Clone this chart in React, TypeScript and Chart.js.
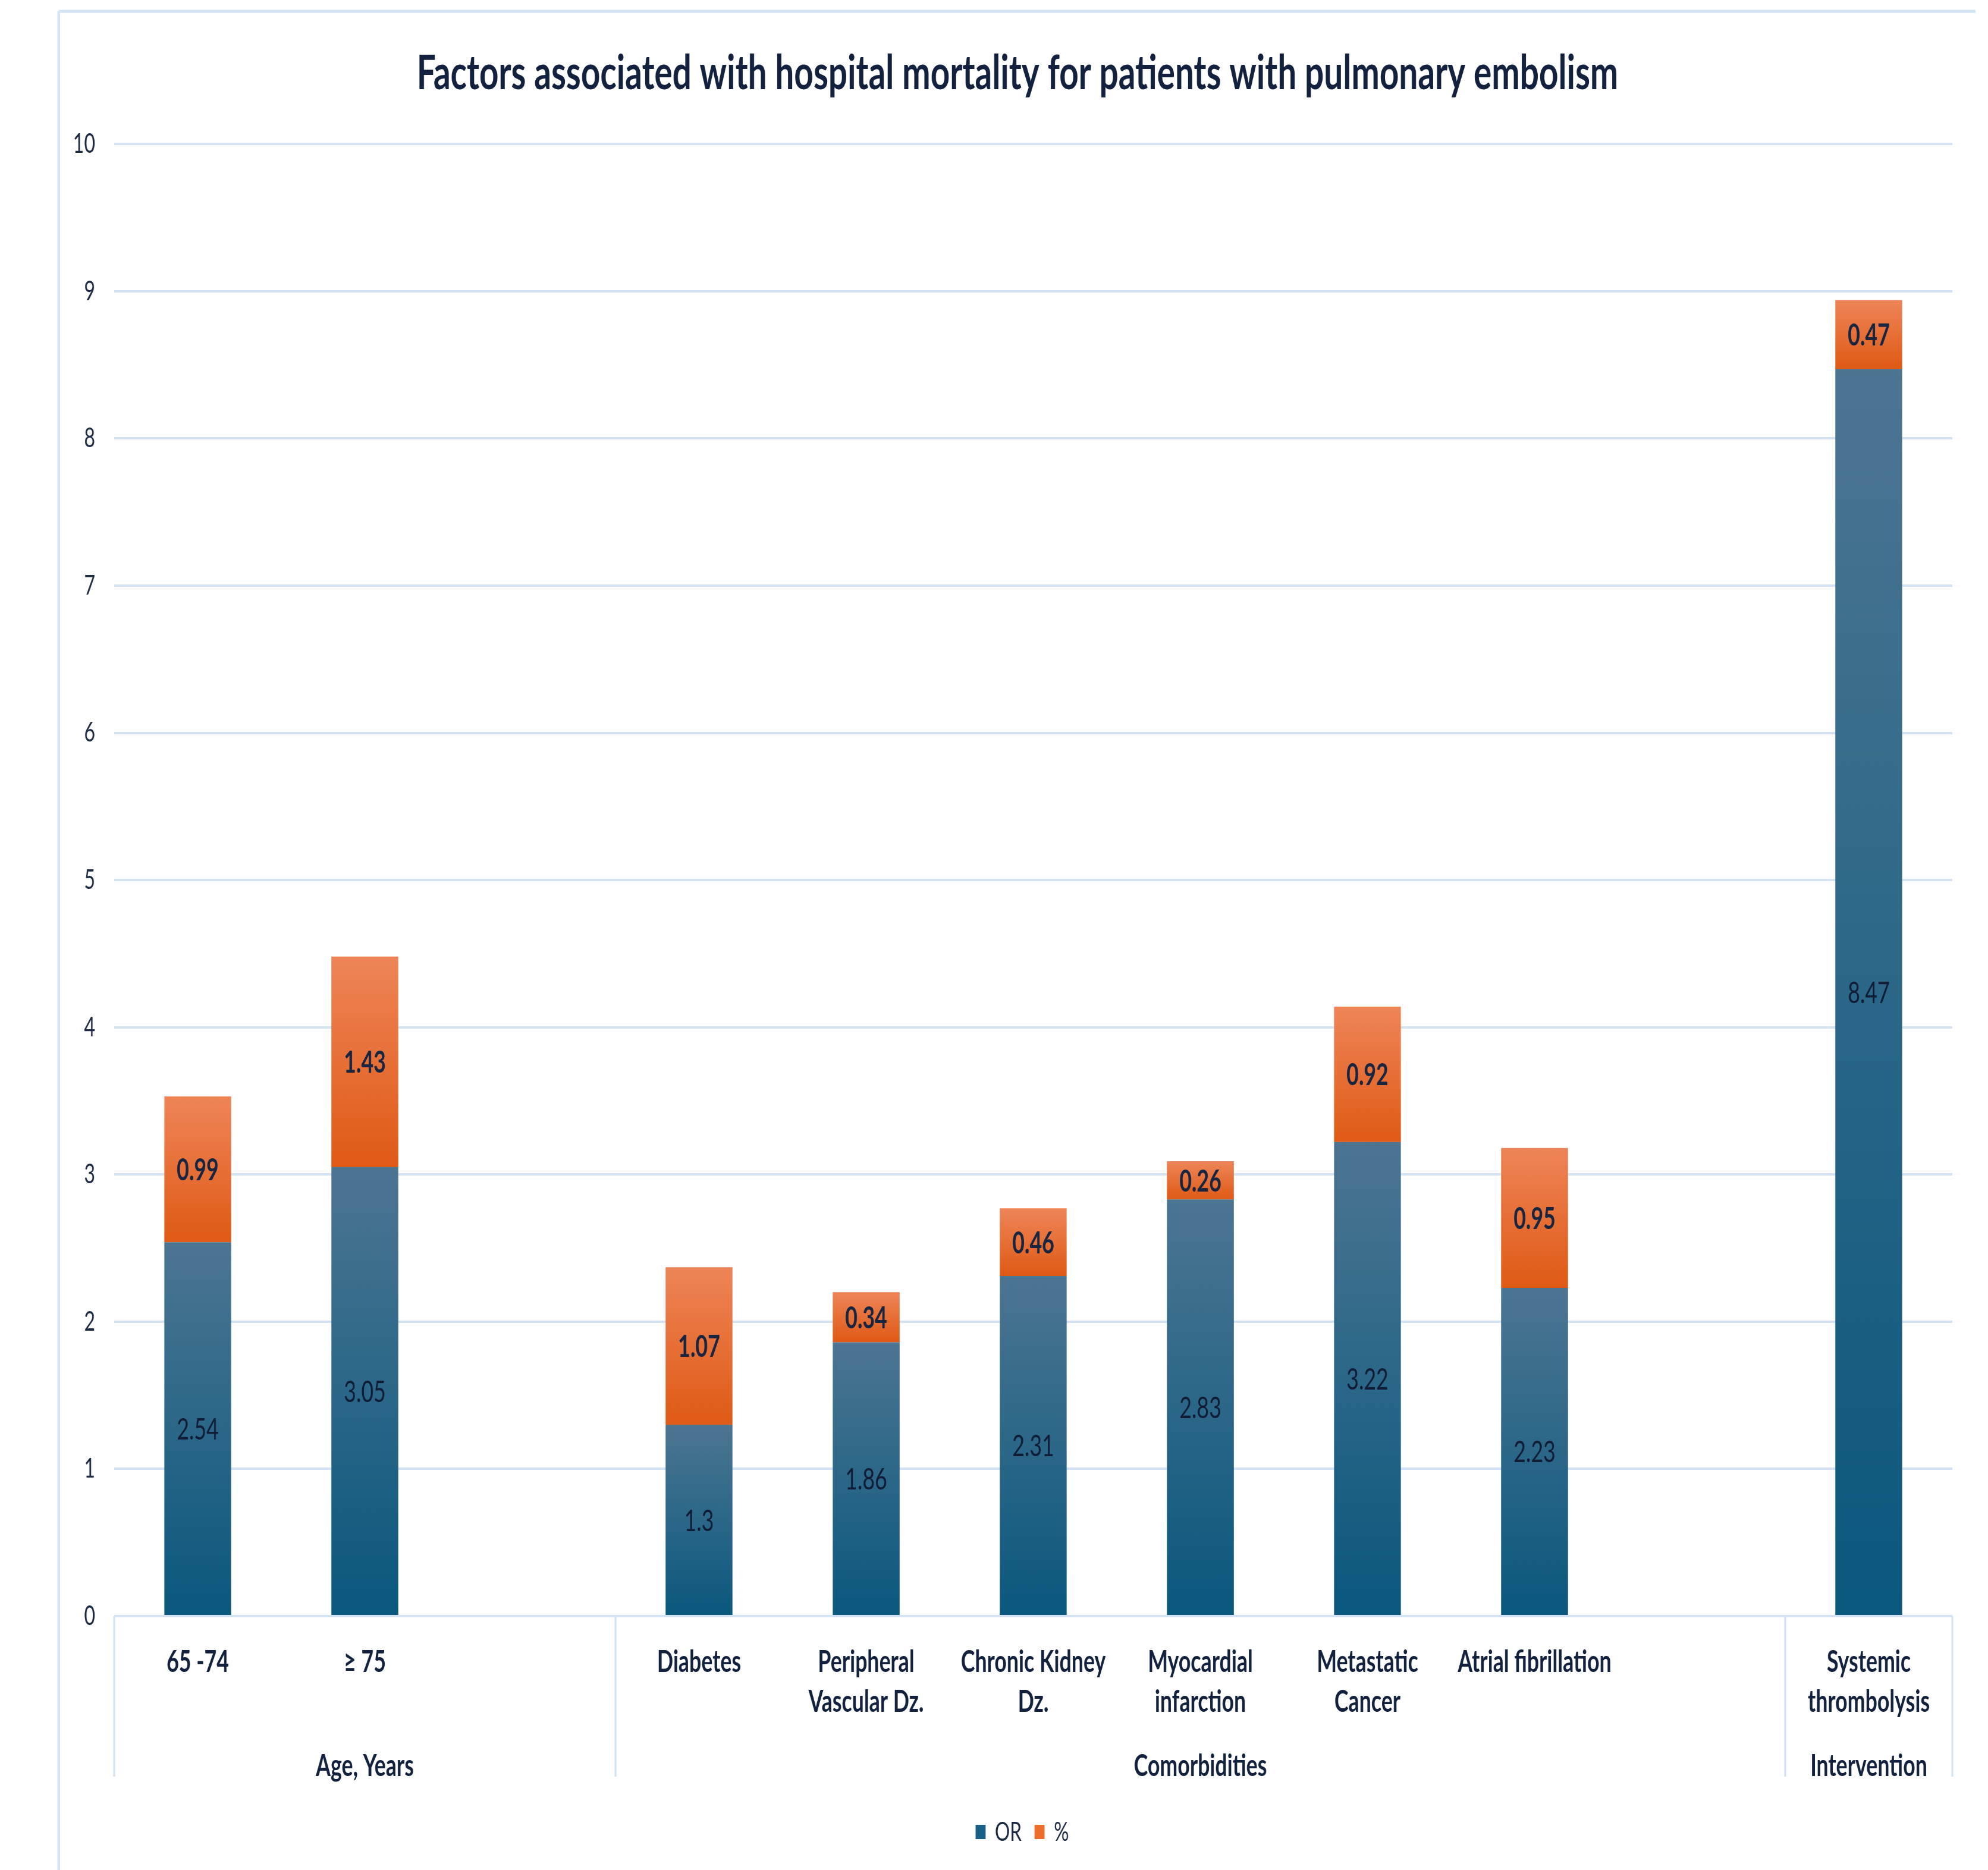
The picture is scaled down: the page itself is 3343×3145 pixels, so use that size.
import React, { useEffect, useRef } from 'react';
import { Chart, registerables } from 'chart.js';

Chart.register(...registerables);

// ---------- data ----------
const categories: (string | string[])[] = [
  '65 -74',
  '≥ 75',
  '',
  'Diabetes',
  ['Peripheral', 'Vascular Dz.'],
  ['Chronic Kidney', 'Dz.'],
  ['Myocardial', 'infarction'],
  ['Metastatic', 'Cancer'],
  'Atrial fibrillation',
  '',
  ['Systemic', 'thrombolysis'],
];
const orValues: (number | null)[] = [2.54, 3.05, null, 1.3, 1.86, 2.31, 2.83, 3.22, 2.23, null, 8.47];
const pctValues: (number | null)[] = [0.99, 1.43, null, 1.07, 0.34, 0.46, 0.26, 0.92, 0.95, null, 0.47];
const seriesNames = ['OR', '%'];
const groupLabels = ['Age, Years', 'Comorbidities', 'Intervention'];
const groupStarts = [0, 3, 10];
const groupEnds = [3, 10, 11];
const titleText = 'Factors associated with hospital mortality for patients with pulmonary embolism';
const yMin = 0;
const yMax = 10;
const yStep = 1;

// ---------- styling ----------
const SX = 0.7; // horizontal compression of the reference picture
const PAGE_W = 3343;
const PAGE_H = 3145;
const LW = Math.round(PAGE_W / SX);
const FONT = 'Lato, "Open Sans", sans-serif';
const TEXT = '#12223e';
const LINE = '#d4e3f4';
const orStops = ['#4c7592', '#0a587d'];
const pctStops = ['#ee8558', '#df5a15'];
const legendColors = ['#1c5f86', '#ec6f2d'];
const TITLE_CX = 1711 / SX;
const LEGEND_CX = 1719 / SX;

function gradientFor(c: any, stops: string[], bases: (number | null)[] | null, vals: (number | null)[]) {
  const chart = c.chart;
  const y = chart.scales && chart.scales.y;
  if (c.type !== 'data' || !y) return stops[1];
  const i = c.dataIndex;
  const v = vals[i];
  if (v == null) return stops[1];
  const b = bases ? (bases[i] ?? 0) : 0;
  const top = y.getPixelForValue(b + v);
  const bottom = y.getPixelForValue(b);
  if (!isFinite(top) || !isFinite(bottom) || top === bottom) return stops[1];
  const g = chart.ctx.createLinearGradient(0, top, 0, bottom);
  g.addColorStop(0, stops[0]);
  g.addColorStop(1, stops[1]);
  return g;
}

const decorPlugin = {
  id: 'decor',
  afterLayout(chart: any) {
    const shift = (box: any, cx: number) => {
      if (!box) return;
      const d = cx - (box.left + box.right) / 2;
      box.left += d;
      box.right += d;
    };
    shift(chart.titleBlock, TITLE_CX);
    shift(chart.legend, LEGEND_CX);
  },
  beforeDraw(chart: any) {
    const ctx = chart.ctx;
    ctx.save();
    ctx.strokeStyle = '#d3e3f6';
    ctx.lineWidth = 5;
    ctx.beginPath();
    ctx.moveTo(141, 19);
    ctx.lineTo(4746, 19);
    ctx.stroke();
    ctx.lineWidth = 6;
    ctx.beginPath();
    ctx.moveTo(141, 19);
    ctx.lineTo(141, PAGE_H + 10);
    ctx.stroke();
    ctx.restore();
  },
  afterDatasetsDraw(chart: any) {
    const ctx = chart.ctx;
    ctx.save();
    ctx.textAlign = 'center';
    ctx.textBaseline = 'middle';
    const sets = [orValues, pctValues];
    sets.forEach((vals, di) => {
      const meta = chart.getDatasetMeta(di);
      ctx.font = `${di === 1 ? 'bold ' : ''}51px ${FONT}`;
      ctx.fillStyle = di === 1 ? '#172540' : '#101c34';
      meta.data.forEach((el: any, j: number) => {
        const v = vals[j];
        if (v == null) return;
        const p = el.getProps(['x', 'y', 'base'], true);
        ctx.fillText(String(v), p.x, (p.y + p.base) / 2 + 2);
      });
    });
    ctx.restore();
  },
  afterDraw(chart: any) {
    const ctx = chart.ctx;
    const xs = chart.scales.x;
    const area = chart.chartArea;
    const step = xs.getPixelForValue(1) - xs.getPixelForValue(0);
    const edge = (i: number) => xs.getPixelForValue(i) - step / 2;
    ctx.save();
    ctx.strokeStyle = LINE;
    ctx.lineWidth = 4.5;
    const bounds = new Set<number>();
    groupStarts.forEach((s) => bounds.add(s));
    groupEnds.forEach((e) => bounds.add(e));
    bounds.forEach((b) => {
      const x = edge(b);
      ctx.beginPath();
      ctx.moveTo(x, area.bottom);
      ctx.lineTo(x, 2988);
      ctx.stroke();
    });
    ctx.fillStyle = TEXT;
    ctx.textAlign = 'center';
    ctx.textBaseline = 'middle';
    ctx.font = `bold 51px ${FONT}`;
    groupLabels.forEach((g, k) => {
      const cx = (edge(groupStarts[k]) + edge(groupEnds[k])) / 2;
      ctx.fillText(g, cx, 2971);
    });
    ctx.restore();
  },
};

export default function App() {
  const ref = useRef<HTMLCanvasElement | null>(null);

  useEffect(() => {
    document.body.style.margin = '0';
    const canvas = ref.current;
    if (!canvas) return;
    const ticks: number[] = [];
    for (let v = yMin; v <= yMax; v += yStep) ticks.push(v);

    const chart = new Chart(canvas, {
      type: 'bar',
      data: {
        labels: categories,
        datasets: [
          {
            label: seriesNames[0],
            data: orValues,
            backgroundColor: (c: any) => gradientFor(c, orStops, null, orValues),
            borderWidth: 0,
            barPercentage: 0.4,
            categoryPercentage: 1,
          },
          {
            label: seriesNames[1],
            data: pctValues,
            backgroundColor: (c: any) => gradientFor(c, pctStops, orValues, pctValues),
            borderWidth: 0,
            barPercentage: 0.4,
            categoryPercentage: 1,
          },
        ],
      },
      options: {
        responsive: false,
        animation: false,
        devicePixelRatio: 1,
        layout: { padding: { left: 0, right: 86, top: 0, bottom: 31.5 } },
        plugins: {
          title: {
            display: true,
            text: titleText,
            color: TEXT,
            font: { family: FONT, weight: 'bold', size: 81, lineHeight: 1.2 },
            padding: { top: 75, bottom: 70 },
          },
          legend: {
            display: true,
            position: 'bottom',
            labels: {
              color: '#1a2844',
              font: { family: FONT, size: 45 },
              boxWidth: 24,
              boxHeight: 24,
              padding: 31,
              generateLabels: (ch: any) =>
                (Chart.defaults.plugins.legend.labels as any).generateLabels(ch).map((l: any, i: number) => ({
                  ...l,
                  fillStyle: legendColors[i],
                  strokeStyle: legendColors[i],
                  lineWidth: 0,
                })),
            },
          },
          tooltip: { enabled: false },
        },
        scales: {
          x: {
            stacked: true,
            offset: true,
            grid: { display: false, drawTicks: false },
            border: { display: false },
            ticks: {
              autoSkip: false,
              maxRotation: 0,
              minRotation: 0,
              padding: 44,
              color: TEXT,
              font: { family: FONT, weight: 'bold', size: 51, lineHeight: 67 / 51 },
            },
            afterFit: (s: any) => {
              s.height = 309.5;
            },
          },
          y: {
            stacked: true,
            min: yMin,
            max: yMax,
            afterBuildTicks: (s: any) => {
              s.ticks = ticks.map((v) => ({ value: v }));
            },
            ticks: {
              stepSize: yStep,
              padding: 45.7,
              color: '#1c2a42',
              font: { family: FONT, size: 46 },
            },
            grid: { color: LINE, lineWidth: 4, drawTicks: false },
            border: { display: false },
            afterFit: (s: any) => {
              s.width = 274.3;
            },
          },
        },
      },
      plugins: [decorPlugin],
    } as any);

    return () => chart.destroy();
  }, []);

  return (
    <div style={{ width: PAGE_W, height: PAGE_H, overflow: 'hidden', position: 'relative', background: '#fff' }}>
      <div style={{ width: LW, height: PAGE_H, transform: `scaleX(${SX})`, transformOrigin: '0 0' }}>
        <canvas ref={ref} width={LW} height={PAGE_H} style={{ display: 'block', width: LW, height: PAGE_H }} />
      </div>
    </div>
  );
}
